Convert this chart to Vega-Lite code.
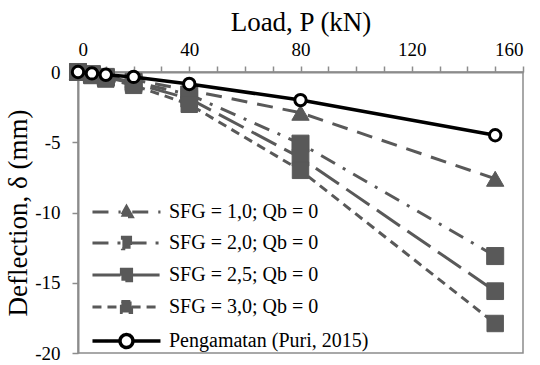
{
  "$schema": "https://vega.github.io/schema/vega-lite/v6.json",
  "width": 445,
  "height": 281,
  "autosize": {"type": "none"},
  "padding": {"left": 78, "top": 72, "right": 17, "bottom": 12},
  "params": [
    {"name": "sers", "value": ["SFG = 1,0; Qb = 0", "SFG = 2,0; Qb = 0", "SFG = 2,5; Qb = 0", "SFG = 3,0; Qb = 0", "Pengamatan (Puri, 2015)"]}
  ],
  "config": {
    "font": "Liberation Serif",
    "view": {"stroke": "#8c8c8c", "strokeWidth": 1.5},
    "style": {"guide-label": {"font": "Liberation Serif"}, "guide-title": {"font": "Liberation Serif"}},
    "axis": {
      "labelFont": "Liberation Serif", "titleFont": "Liberation Serif",
      "labelFontSize": 19, "titleFontSize": 27, "titleFontWeight": "normal",
      "labelColor": "#000000", "titleColor": "#000000",
      "domainColor": "#8c8c8c", "tickColor": "#8c8c8c",
      "domainWidth": 2, "tickWidth": 1.5, "grid": false, "tickSize": 6
    },
    "legend": {"labelFont": "Liberation Serif"}
  },
  "data": {"values": [
    {"s": "SFG = 1,0; Qb = 0", "P": 0, "d": 0},
    {"s": "SFG = 1,0; Qb = 0", "P": 5, "d": -0.1},
    {"s": "SFG = 1,0; Qb = 0", "P": 10, "d": -0.25},
    {"s": "SFG = 1,0; Qb = 0", "P": 20, "d": -0.55},
    {"s": "SFG = 1,0; Qb = 0", "P": 40, "d": -1.3},
    {"s": "SFG = 1,0; Qb = 0", "P": 80, "d": -2.9},
    {"s": "SFG = 1,0; Qb = 0", "P": 150, "d": -7.6},
    {"s": "SFG = 2,0; Qb = 0", "P": 0, "d": 0},
    {"s": "SFG = 2,0; Qb = 0", "P": 5, "d": -0.15},
    {"s": "SFG = 2,0; Qb = 0", "P": 10, "d": -0.35},
    {"s": "SFG = 2,0; Qb = 0", "P": 20, "d": -0.7},
    {"s": "SFG = 2,0; Qb = 0", "P": 40, "d": -1.6},
    {"s": "SFG = 2,0; Qb = 0", "P": 80, "d": -5.1},
    {"s": "SFG = 2,0; Qb = 0", "P": 150, "d": -13.1},
    {"s": "SFG = 2,5; Qb = 0", "P": 0, "d": 0},
    {"s": "SFG = 2,5; Qb = 0", "P": 5, "d": -0.2},
    {"s": "SFG = 2,5; Qb = 0", "P": 10, "d": -0.4},
    {"s": "SFG = 2,5; Qb = 0", "P": 20, "d": -0.8},
    {"s": "SFG = 2,5; Qb = 0", "P": 40, "d": -1.9},
    {"s": "SFG = 2,5; Qb = 0", "P": 80, "d": -6.1},
    {"s": "SFG = 2,5; Qb = 0", "P": 150, "d": -15.6},
    {"s": "SFG = 3,0; Qb = 0", "P": 0, "d": 0},
    {"s": "SFG = 3,0; Qb = 0", "P": 5, "d": -0.25},
    {"s": "SFG = 3,0; Qb = 0", "P": 10, "d": -0.5},
    {"s": "SFG = 3,0; Qb = 0", "P": 20, "d": -0.95},
    {"s": "SFG = 3,0; Qb = 0", "P": 40, "d": -2.3},
    {"s": "SFG = 3,0; Qb = 0", "P": 80, "d": -7.0},
    {"s": "SFG = 3,0; Qb = 0", "P": 150, "d": -17.9},
    {"s": "Pengamatan (Puri, 2015)", "P": 0, "d": 0},
    {"s": "Pengamatan (Puri, 2015)", "P": 5, "d": -0.1},
    {"s": "Pengamatan (Puri, 2015)", "P": 10, "d": -0.2},
    {"s": "Pengamatan (Puri, 2015)", "P": 20, "d": -0.35},
    {"s": "Pengamatan (Puri, 2015)", "P": 40, "d": -0.85},
    {"s": "Pengamatan (Puri, 2015)", "P": 80, "d": -2.0},
    {"s": "Pengamatan (Puri, 2015)", "P": 150, "d": -4.5}
  ]},
  "encoding": {
    "x": {
      "field": "P", "type": "quantitative",
      "scale": {"domain": [0, 160], "nice": false},
      "axis": {
        "orient": "top", "title": "Load, P (kN)",
        "labelFont": "Liberation Serif", "titleFont": "Liberation Serif",
        "values": [0, 10, 20, 30, 40, 50, 60, 70, 80, 90, 100, 110, 120, 130, 140, 150, 160],
        "labelExpr": "datum.value % 40 == 0 ? datum.label : ''",
        "labelPadding": 7, "titlePadding": 4, "labelOverlap": false,
        "encode": {"ticks": {"update": {"y": {"signal": "datum.value % 40 == 0 ? 6 : 0"}, "y2": {"signal": "datum.value % 40 == 0 ? -6 : -5"}}}}
      }
    },
    "y": {
      "field": "d", "type": "quantitative",
      "scale": {"domain": [-20, 0], "nice": false},
      "axis": {
        "title": "Deflection, δ (mm)",
        "labelFont": "Liberation Serif", "titleFont": "Liberation Serif",
        "values": [-20, -15, -10, -5, 0],
        "labelExpr": "'' + datum.value",
        "labelPadding": 12, "titlePadding": 2,
        "encode": {"ticks": {"update": {"x": {"value": 6}, "x2": {"value": -6}}}}
      }
    }
  },
  "layer": [
    {
      "transform": [{"filter": "datum.s != 'Pengamatan (Puri, 2015)'"}],
      "mark": {"type": "line", "strokeWidth": 3},
      "encoding": {
        "stroke": {
          "field": "s", "type": "nominal",
          "scale": {"domain": ["SFG = 1,0; Qb = 0", "SFG = 2,0; Qb = 0", "SFG = 2,5; Qb = 0", "SFG = 3,0; Qb = 0", "Pengamatan (Puri, 2015)"], "range": ["#595959", "#595959", "#595959", "#595959", "#000000"]},
          "legend": {
            "orient": "none", "legendX": 14, "legendY": 130,
            "title": null, "padding": 0,
            "symbolSize": 4624, "labelOffset": 57, "rowPadding": 8,
            "labelFont": "Liberation Serif", "labelFontSize": 20, "labelColor": "#000000",
            "labelLimit": 400,
            "encode": {
              "symbols": {
                "update": {
                  "shape": {"signal": "['M-0.28,0H0.55M0.89,0H1.72M0.72,-0.16L0.89,0.14L0.55,0.14Z', 'M-0.28,0H0.6M0.84,0H1.72M0.6,-0.17H0.84V0.17H0.6Z', 'M-0.28,0H0.57M0.87,0H1.72M0.57,-0.17H0.87V0.17H0.57Z', 'M-0.28,0H0.57M0.87,0H1.72M0.57,-0.16H0.87V0.16H0.57Z', 'M-0.28,0H0.53M0.91,0H1.72M0.53,0A0.19,0.19,0,1,1,0.91,0A0.19,0.19,0,1,1,0.53,0Z'][indexof(sers, datum.value)]"},
                  "fill": {"signal": "indexof(sers, datum.value) == 4 ? '#ffffff' : '#595959'"},
                  "stroke": {"signal": "indexof(sers, datum.value) == 4 ? '#000000' : '#595959'"},
                  "strokeDash": {"signal": "[[16, 10], [16, 9, 3, 9], [28, 9], [9, 6], []][indexof(sers, datum.value)]"},
                  "strokeWidth": {"signal": "indexof(sers, datum.value) == 4 ? 3.5 : 3"},
                  "size": {"value": 4624},
                  "opacity": {"value": 1}
                }
              }
            }
          }
        },
        "strokeDash": {
          "field": "s", "type": "nominal",
          "scale": {"domain": ["SFG = 1,0; Qb = 0", "SFG = 2,0; Qb = 0", "SFG = 2,5; Qb = 0", "SFG = 3,0; Qb = 0", "Pengamatan (Puri, 2015)"], "range": [[16, 10], [16, 9, 3, 9], [28, 9], [9, 6], [1, 0]]},
          "legend": null
        }
      }
    },
    {
      "transform": [{"filter": "datum.s != 'Pengamatan (Puri, 2015)'"}],
      "mark": {"type": "point", "filled": true, "stroke": "#595959", "fill": "#595959", "strokeWidth": 1, "opacity": 1},
      "encoding": {
        "shape": {
          "field": "s", "type": "nominal",
          "scale": {"domain": ["SFG = 1,0; Qb = 0", "SFG = 2,0; Qb = 0", "SFG = 2,5; Qb = 0", "SFG = 3,0; Qb = 0"], "range": ["triangle-up", "square", "square", "square"]},
          "legend": null
        },
        "size": {
          "field": "s", "type": "nominal",
          "scale": {"domain": ["SFG = 1,0; Qb = 0", "SFG = 2,0; Qb = 0", "SFG = 2,5; Qb = 0", "SFG = 3,0; Qb = 0"], "range": [300, 270, 290, 290]},
          "legend": null
        }
      }
    },
    {
      "transform": [{"filter": "datum.s == 'Pengamatan (Puri, 2015)'"}],
      "mark": {"type": "line", "strokeWidth": 3.5, "stroke": "#000000"},
      "encoding": {}
    },
    {
      "transform": [{"filter": "datum.s == 'Pengamatan (Puri, 2015)'"}],
      "mark": {"type": "point", "filled": false, "shape": "circle", "size": 130, "stroke": "#000000", "fill": "#ffffff", "strokeWidth": 3, "opacity": 1},
      "encoding": {}
    }
  ]
}
